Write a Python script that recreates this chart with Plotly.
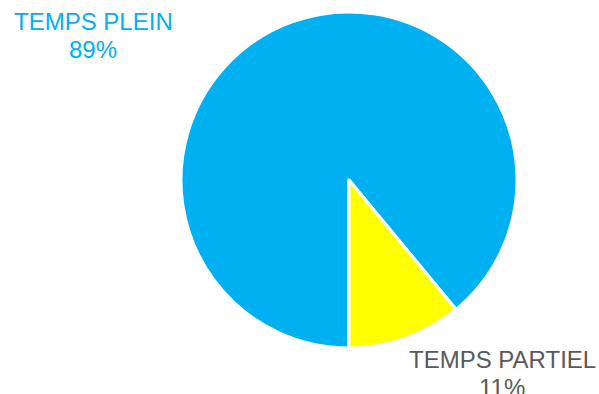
import plotly.graph_objects as go

# Répartition du temps de travail
categories = ["TEMPS PLEIN", "TEMPS PARTIEL"]
values = [89, 11]
colors = ["#00B0F0", "#FFFF00"]
label_colors = ["#00B0F0", "#595959"]

W, H = 599, 394
cx, cy, r = 349, 180, 168

fig = go.Figure(
    go.Pie(
        labels=categories,
        values=values,
        sort=False,
        direction="clockwise",
        rotation=180,
        marker=dict(colors=colors, line=dict(color="white", width=3)),
        textinfo="none",
        hoverinfo="label+percent",
        showlegend=False,
        domain=dict(
            x=[(cx - r) / W, (cx + r) / W],
            y=[1 - (cy + r) / H, 1 - (cy - r) / H],
        ),
    )
)

total = sum(values)
label_pos = [(93, 6), (502, 344)]
line_gap = 28
font = dict(family="Liberation Sans, Arial, sans-serif", size=24)
for name, v, col, (lx, ly) in zip(categories, values, label_colors, label_pos):
    for i, line in enumerate([name, f"{round(100 * v / total)}%"]):
        fig.add_annotation(
            x=lx / W, y=1 - (ly + i * line_gap) / H, xref="paper", yref="paper",
            xanchor="center", yanchor="top",
            text=line,
            showarrow=False,
            font=dict(font, color=col),
        )

fig.update_layout(
    width=W, height=H,
    margin=dict(l=0, r=0, t=0, b=0),
    paper_bgcolor="white",
    plot_bgcolor="white",
)

fig.write_html("out.html")
